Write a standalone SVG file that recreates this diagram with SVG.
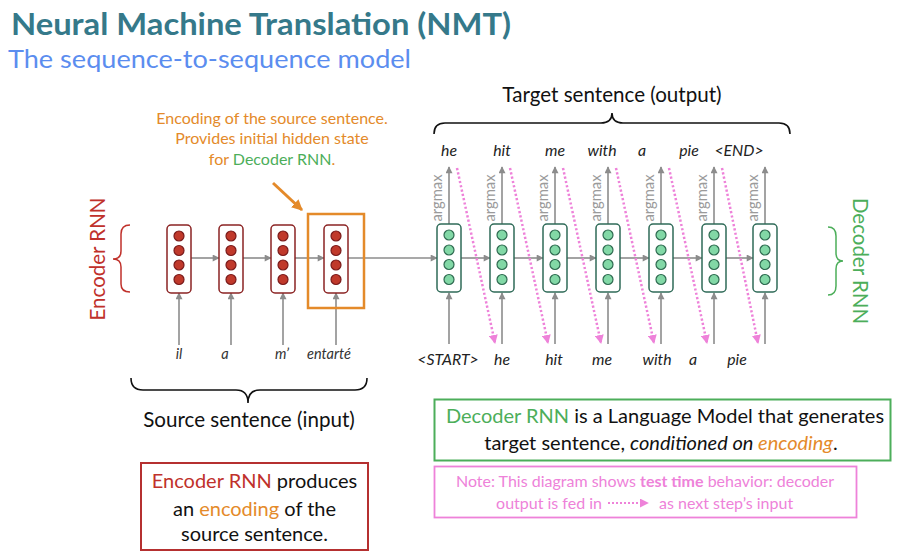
<svg xmlns="http://www.w3.org/2000/svg" width="908" height="557" viewBox="0 0 908 557">
<style>
text{font-family:Lato,"Open Sans","Liberation Sans",sans-serif}
.enc rect{fill:#fff;stroke:#8b2323;stroke-width:1.5}
.enc circle{fill:#c0392b;stroke:#7a1a1a;stroke-width:1.2}
.dec rect{fill:#fff;stroke:#2f6b58;stroke-width:1.5}
.dec circle{fill:#82d8a6;stroke:#2e6a50;stroke-width:1.2}
.g{stroke:#8c8c8c;stroke-width:1.6;fill:none}
.pk{stroke:#ee82d9;stroke-width:2.5;stroke-dasharray:2.2 2.2;fill:none}
.w{font-size:15.8px;font-style:italic;fill:#222;text-anchor:middle}
.ew{font-size:14.5px;font-style:italic;fill:#333;text-anchor:middle}
.am{font-size:14.8px;fill:#9a9a9a;text-anchor:middle}
.lbl{font-size:20px;fill:#111;text-anchor:middle}
.big{font-size:20.6px;fill:#111;text-anchor:middle}
.or{fill:#e48a2a}.gr{fill:#4cae5a}.rd{fill:#c0312b}
</style>
<defs>
<marker id="gah" viewBox="0 0 10 10" refX="9" refY="5" markerWidth="8" markerHeight="7" orient="auto" markerUnits="userSpaceOnUse"><path d="M0,0 L10,5 L0,10 z" fill="#8c8c8c"/></marker>
<marker id="pa" viewBox="0 0 10 10" refX="9" refY="5" markerWidth="9" markerHeight="9" orient="auto" markerUnits="userSpaceOnUse"><path d="M0,0 L10,5 L0,10 z" fill="#ee82d9"/></marker>
<marker id="oa" viewBox="0 0 10 10" refX="9" refY="5" markerWidth="11" markerHeight="11" orient="auto" markerUnits="userSpaceOnUse"><path d="M0,0 L10,5 L0,10 z" fill="#e48a2a"/></marker>
</defs>

<text x="11" y="35" font-size="30" font-weight="bold" fill="#35798a" textLength="500" lengthAdjust="spacingAndGlyphs">Neural Machine Translation (NMT)</text>
<text x="8" y="68" font-size="25" fill="#5b8def" textLength="403" lengthAdjust="spacingAndGlyphs">The sequence-to-sequence model</text>

<g id="annotation">
<text x="272" y="124" font-size="16" text-anchor="middle" class="or">Encoding of the source sentence.</text>
<text x="272" y="144" font-size="16" text-anchor="middle" class="or">Provides initial hidden state</text>
<text x="272" y="165" font-size="16" text-anchor="middle" class="or">for <tspan class="gr">Decoder RNN</tspan>.</text>
</g>

<g id="connectors">
<line x1="273" y1="183" x2="302" y2="210" stroke="#e48a2a" stroke-width="3" marker-end="url(#oa)"/>
<line class="g" x1="191" y1="258" x2="219" y2="258" marker-end="url(#gah)"/>
<line class="g" x1="243" y1="258" x2="271" y2="258" marker-end="url(#gah)"/>
<line class="g" x1="295" y1="258" x2="324" y2="258" marker-end="url(#gah)"/>
<line class="g" x1="348" y1="258" x2="437" y2="258" marker-end="url(#gah)"/>
<line class="g" x1="461" y1="258" x2="490" y2="258" marker-end="url(#gah)"/>
<line class="g" x1="514" y1="258" x2="543" y2="258" marker-end="url(#gah)"/>
<line class="g" x1="567" y1="258" x2="596" y2="258" marker-end="url(#gah)"/>
<line class="g" x1="620" y1="258" x2="649" y2="258" marker-end="url(#gah)"/>
<line class="g" x1="673" y1="258" x2="702" y2="258" marker-end="url(#gah)"/>
<line class="g" x1="726" y1="258" x2="753" y2="258" marker-end="url(#gah)"/>
<line class="g" x1="179" y1="345" x2="179" y2="293" marker-end="url(#gah)"/>
<line class="g" x1="231" y1="345" x2="231" y2="293" marker-end="url(#gah)"/>
<line class="g" x1="283" y1="345" x2="283" y2="293" marker-end="url(#gah)"/>
<line class="g" x1="336" y1="345" x2="336" y2="293" marker-end="url(#gah)"/>
<line class="g" x1="449" y1="344" x2="449" y2="293" marker-end="url(#gah)"/>
<line class="g" x1="502" y1="344" x2="502" y2="293" marker-end="url(#gah)"/>
<line class="g" x1="555" y1="344" x2="555" y2="293" marker-end="url(#gah)"/>
<line class="g" x1="608" y1="344" x2="608" y2="293" marker-end="url(#gah)"/>
<line class="g" x1="661" y1="344" x2="661" y2="293" marker-end="url(#gah)"/>
<line class="g" x1="714" y1="344" x2="714" y2="293" marker-end="url(#gah)"/>
<line class="g" x1="765" y1="344" x2="765" y2="293" marker-end="url(#gah)"/>
<line class="g" x1="449" y1="224" x2="449" y2="167" marker-end="url(#gah)"/>
<line class="g" x1="502" y1="224" x2="502" y2="167" marker-end="url(#gah)"/>
<line class="g" x1="555" y1="224" x2="555" y2="167" marker-end="url(#gah)"/>
<line class="g" x1="608" y1="224" x2="608" y2="167" marker-end="url(#gah)"/>
<line class="g" x1="661" y1="224" x2="661" y2="167" marker-end="url(#gah)"/>
<line class="g" x1="714" y1="224" x2="714" y2="167" marker-end="url(#gah)"/>
<line class="g" x1="765" y1="224" x2="765" y2="167" marker-end="url(#gah)"/>
<line class="pk" x1="457" y1="168" x2="495" y2="343" marker-end="url(#pa)"/>
<line class="pk" x1="510" y1="168" x2="548" y2="343" marker-end="url(#pa)"/>
<line class="pk" x1="563" y1="168" x2="601" y2="343" marker-end="url(#pa)"/>
<line class="pk" x1="616" y1="168" x2="654" y2="343" marker-end="url(#pa)"/>
<line class="pk" x1="669" y1="168" x2="707" y2="343" marker-end="url(#pa)"/>
<line class="pk" x1="722" y1="168" x2="758" y2="343" marker-end="url(#pa)"/>
</g>

<g id="argmax-labels">
<text class="am" transform="translate(442,198) rotate(-90)">argmax</text>
<text class="am" transform="translate(495,198) rotate(-90)">argmax</text>
<text class="am" transform="translate(548,198) rotate(-90)">argmax</text>
<text class="am" transform="translate(601,198) rotate(-90)">argmax</text>
<text class="am" transform="translate(654,198) rotate(-90)">argmax</text>
<text class="am" transform="translate(707,198) rotate(-90)">argmax</text>
<text class="am" transform="translate(758,198) rotate(-90)">argmax</text>
</g>

<g id="encoding-box"><rect x="308" y="214" width="56" height="94" fill="none" stroke="#e48a2a" stroke-width="2.5"/></g>

<g id="enc1" class="enc"><rect x="167" y="225" width="24" height="68" rx="4"/><circle cx="179" cy="236" r="5"/><circle cx="179" cy="250.5" r="5"/><circle cx="179" cy="265" r="5"/><circle cx="179" cy="279.5" r="5"/></g>
<g id="enc2" class="enc"><rect x="219" y="225" width="24" height="68" rx="4"/><circle cx="231" cy="236" r="5"/><circle cx="231" cy="250.5" r="5"/><circle cx="231" cy="265" r="5"/><circle cx="231" cy="279.5" r="5"/></g>
<g id="enc3" class="enc"><rect x="271" y="225" width="24" height="68" rx="4"/><circle cx="283" cy="236" r="5"/><circle cx="283" cy="250.5" r="5"/><circle cx="283" cy="265" r="5"/><circle cx="283" cy="279.5" r="5"/></g>
<g id="enc4" class="enc"><rect x="324" y="225" width="24" height="68" rx="4"/><circle cx="336" cy="236" r="5"/><circle cx="336" cy="250.5" r="5"/><circle cx="336" cy="265" r="5"/><circle cx="336" cy="279.5" r="5"/></g>

<g id="dec1" class="dec"><rect x="437" y="224" width="24" height="68" rx="4"/><circle cx="449" cy="235" r="5"/><circle cx="449" cy="250" r="5"/><circle cx="449" cy="264.5" r="5"/><circle cx="449" cy="279.5" r="5"/></g>
<g id="dec2" class="dec"><rect x="490" y="224" width="24" height="68" rx="4"/><circle cx="502" cy="235" r="5"/><circle cx="502" cy="250" r="5"/><circle cx="502" cy="264.5" r="5"/><circle cx="502" cy="279.5" r="5"/></g>
<g id="dec3" class="dec"><rect x="543" y="224" width="24" height="68" rx="4"/><circle cx="555" cy="235" r="5"/><circle cx="555" cy="250" r="5"/><circle cx="555" cy="264.5" r="5"/><circle cx="555" cy="279.5" r="5"/></g>
<g id="dec4" class="dec"><rect x="596" y="224" width="24" height="68" rx="4"/><circle cx="608" cy="235" r="5"/><circle cx="608" cy="250" r="5"/><circle cx="608" cy="264.5" r="5"/><circle cx="608" cy="279.5" r="5"/></g>
<g id="dec5" class="dec"><rect x="649" y="224" width="24" height="68" rx="4"/><circle cx="661" cy="235" r="5"/><circle cx="661" cy="250" r="5"/><circle cx="661" cy="264.5" r="5"/><circle cx="661" cy="279.5" r="5"/></g>
<g id="dec6" class="dec"><rect x="702" y="224" width="24" height="68" rx="4"/><circle cx="714" cy="235" r="5"/><circle cx="714" cy="250" r="5"/><circle cx="714" cy="264.5" r="5"/><circle cx="714" cy="279.5" r="5"/></g>
<g id="dec7" class="dec"><rect x="753" y="224" width="24" height="68" rx="4"/><circle cx="765" cy="235" r="5"/><circle cx="765" cy="250" r="5"/><circle cx="765" cy="264.5" r="5"/><circle cx="765" cy="279.5" r="5"/></g>

<g id="target-words">
<text class="w" x="449" y="156">he</text>
<text class="w" x="502" y="156">hit</text>
<text class="w" x="555" y="156">me</text>
<text class="w" x="602" y="156">with</text>
<text class="w" x="642" y="156">a</text>
<text class="w" x="689" y="156">pie</text>
<text class="w" x="739" y="156">&lt;END&gt;</text>
</g>
<g id="decoder-inputs">
<text class="w" x="448" y="365">&lt;START&gt;</text>
<text class="w" x="502" y="365">he</text>
<text class="w" x="554" y="365">hit</text>
<text class="w" x="602" y="365">me</text>
<text class="w" x="657" y="365">with</text>
<text class="w" x="693" y="365">a</text>
<text class="w" x="737" y="365">pie</text>
</g>
<g id="source-words">
<text class="ew" x="179" y="359">il</text>
<text class="ew" x="225" y="359">a</text>
<text class="ew" x="282" y="359">m’</text>
<text class="ew" x="329" y="359">entarté</text>
</g>

<g id="target-brace">
<path d="M434,134 Q434,123 445,123 L601,123 Q612,123 612,113 Q612,123 623,123 L779,123 Q790,123 790,134" fill="none" stroke="#111" stroke-width="1.6"/>
<text class="big" x="612" y="102">Target sentence (output)</text>
</g>
<g id="source-brace">
<path d="M131,378 Q131,390 143,390 L236,390 Q248,390 248,403 Q248,390 260,390 L355,390 Q367,390 367,378" fill="none" stroke="#111" stroke-width="1.6"/>
<text class="big" x="249" y="427">Source sentence (input)</text>
</g>
<g id="encoder-label">
<path d="M130,225 Q121,225 121,234 L121,251 Q121,259 113,259 Q121,259 121,267 L121,284 Q121,292 130,292" fill="none" stroke="#c0312b" stroke-width="1.5"/>
<text x="0" y="0" font-size="20.5" text-anchor="middle" class="rd" transform="translate(105,259) rotate(-90)">Encoder RNN</text>
</g>
<g id="decoder-label">
<path d="M828,227 Q836,227 836,236 L836,253 Q836,261 843,261 Q836,261 836,269 L836,286 Q836,295 828,295" fill="none" stroke="#4cae5a" stroke-width="1.5"/>
<text x="0" y="0" font-size="20.5" text-anchor="middle" class="gr" transform="translate(853,261) rotate(90)">Decoder RNN</text>
</g>

<g id="decoder-note">
<rect x="434.5" y="399.5" width="456" height="61" fill="#fff" stroke="#4cae5a" stroke-width="2"/>
<text class="lbl" x="665" y="423"><tspan class="gr">Decoder RNN</tspan> is a Language Model that generates</text>
<text class="lbl" x="661" y="450">target sentence, <tspan font-style="italic">conditioned on <tspan class="or">encoding</tspan></tspan>.</text>
</g>
<g id="test-note">
<rect x="434.5" y="466.5" width="422" height="51" fill="#fff" stroke="#ee82d9" stroke-width="1.8"/>
<text x="645" y="487" font-size="16" text-anchor="middle" fill="#ee82d9">Note: This diagram shows <tspan font-weight="bold">test time</tspan> behavior: decoder</text>
<text x="602" y="509" font-size="16" text-anchor="end" fill="#ee82d9">output is fed in</text>
<line x1="608" y1="503" x2="648" y2="503" stroke="#ee82d9" stroke-width="2.2" stroke-dasharray="2 2" marker-end="url(#pa)"/>
<text x="659" y="509" font-size="16" fill="#ee82d9">as next step’s input</text>
</g>
<g id="encoder-note">
<rect x="141" y="463" width="227" height="87" fill="#fff" stroke="#b53030" stroke-width="2"/>
<text class="lbl" x="254.5" y="488" font-size="19.8"><tspan class="rd">Encoder RNN</tspan> produces</text>
<text class="lbl" x="254.5" y="516">an <tspan class="or">encoding</tspan> of the</text>
<text class="lbl" x="254.5" y="541">source sentence.</text>
</g>
</svg>
